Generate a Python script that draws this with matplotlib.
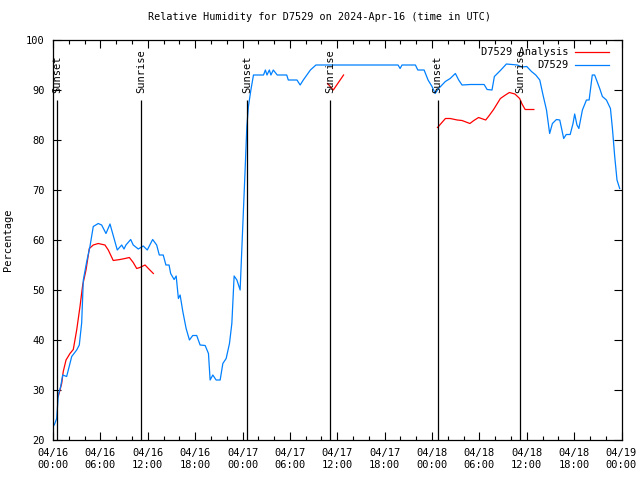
import numpy as np
import matplotlib
matplotlib.use('Agg')
import matplotlib.pyplot as plt

# hours since 04/16 00:00 UTC, relative humidity (%)
obs_hours = [0.16, 0.47, 0.67, 0.97, 1.23, 1.73, 2.37, 3.0, 3.33, 3.63, 3.84, 4.27, 4.68,
             5.1, 5.73, 6.16, 6.71, 7.22, 7.56, 8.14, 8.7, 8.99, 9.24, 9.84, 10.16, 10.8,
             11.43, 11.94, 12.62, 13.13, 13.46, 13.96, 14.3, 14.7, 14.9, 15.34, 15.6, 15.88,
             16.1, 16.44, 16.86, 17.28, 17.7, 18.2, 18.63, 19.27, 19.69, 19.9, 20.24, 20.66,
             21.17, 21.51, 21.93, 22.35, 22.65, 22.94, 23.29, 23.7, 23.92, 24.12, 24.33,
             24.55, 24.75, 25.06, 25.39, 26.66, 26.9, 27.1, 27.4, 27.6, 27.9, 28.4, 29.6,
             29.8, 30.9, 31.3, 31.7, 32.6, 33.3, 43.7, 43.96, 44.2, 45.9, 46.2, 47.0, 47.5,
             48.0, 48.4, 48.84, 49.27, 49.69, 50.3, 50.96, 51.38, 51.8, 52.86, 54.6, 54.98,
             55.6, 55.9, 56.66, 57.42, 58.8, 59.4, 60.0, 60.6, 61.14, 61.65, 62.06, 62.5,
             62.9, 63.25, 63.76, 64.18, 64.68, 65.0, 65.5, 65.86, 66.07, 66.36, 66.6, 67.05,
             67.56, 67.9, 68.3, 68.6, 69.24, 69.58, 70.09, 70.6, 70.85, 71.14, 71.43, 71.77]
obs_rh = [23, 24.3, 29, 30.7, 33, 32.7, 36.7, 38, 39, 43.4, 52, 55.7, 58.7,
          62.7, 63.3, 63, 61.3, 63.2, 61.3, 58, 59, 58.2, 59, 60.1, 59, 58.2,
          58.8, 58, 60.1, 59, 57, 57, 55, 55, 53.3, 52.1, 52.8, 48.3,
          49, 45.7, 42.3, 40, 40.9, 40.9, 39, 38.9, 37.3, 32, 33, 32,
          32, 35.3, 36.3, 39.3, 43.3, 52.8, 52, 50, 58.3, 66, 74,
          82.7, 86.7, 90, 93, 93, 94, 93, 94, 93, 94, 93, 93,
          92, 92, 91, 92, 94, 95, 95, 94.3, 95, 95, 94, 94, 92,
          90.7, 89.3, 90.3, 91, 91.7, 92.3, 93.3, 92, 91, 91.1, 91.1, 90.1,
          90, 92.7, 93.9, 95.2, 95, 94.6, 94.7, 93.7, 93, 92, 89, 86,
          81.3, 83.3, 84.1, 84, 80.3, 81.1, 81.1, 83.3, 85.2, 83, 82.3, 86,
          88, 88, 93, 93, 90.3, 88.7, 88, 86.3, 82.3, 76.7, 72, 70.3]

# analysis series, three separate runs (NaN = gap)
ana_hours = [0.67, 1.1, 1.3, 1.65, 2.15, 2.57, 3.0, 3.42, 3.76, 4.18, 4.6, 5.1, 5.73,
             6.58, 7.0, 7.63, 8.49, 9.12, 9.67, 10.16, 10.6, 11.0, 11.66, 12.08, 12.71,
             np.nan, 34.77, 35.5, 36.8,
             np.nan, 48.7, 49.7, 50.3, 51.2, 51.8, 52.8, 53.3, 53.9, 54.8, 55.2, 55.8,
             56.66, 57.3, 57.8, 58.5, 59.1, 59.4, 59.8, 60.9]
ana_rh = [28.7, 31.3, 33.7, 36, 37.3, 38.1, 42, 46.7, 51, 54, 58.3, 59, 59.3,
          59, 58, 55.9, 56.1, 56.3, 56.5, 55.5, 54.3, 54.5, 55, 54.3, 53.3,
          np.nan, 91.3, 90, 93,
          np.nan, 82.5, 84.3, 84.3, 84, 83.9, 83.3, 83.9, 84.5, 84, 84.8, 86.1,
          88.3, 89, 89.5, 89.2, 88.3, 87.2, 86.1, 86.1]

sun_hours = [0.5, 11.15, 24.6, 35.1, 48.7, 59.2]
sun_labels = ['Sunset', 'Sunrise', 'Sunset', 'Sunrise', 'Sunset', 'Sunrise']

tick_labels = ['04/16\n00:00', '04/16\n06:00', '04/16\n12:00', '04/16\n18:00',
               '04/17\n00:00', '04/17\n06:00', '04/17\n12:00', '04/17\n18:00',
               '04/18\n00:00', '04/18\n06:00', '04/18\n12:00', '04/18\n18:00',
               '04/19\n00:00']

plt.rcParams['font.family'] = 'DejaVu Sans Mono'
plt.rcParams['font.size'] = 7.5

fig = plt.figure(figsize=(6.4, 4.8), dpi=100)
ax = fig.add_axes([53 / 640, 40 / 480, 568.5 / 640, 400 / 480])

ax.plot(ana_hours, ana_rh, color='#ff0000', lw=0.9, label='D7529 Analysis')
ax.plot(obs_hours, obs_rh, color='#0080ff', lw=0.9, label='D7529')

ax.vlines(sun_hours, 20, 88, color='black', lw=0.9)
for h, lab in zip(sun_hours, sun_labels):
    ax.text(h, 89.4, lab, rotation=90, ha='center', va='bottom')

ax.set_xlim(0, 72)
ax.set_ylim(20, 100)
ax.set_xticks(np.arange(0, 73, 6))
ax.set_xticklabels(tick_labels)
ax.set_xticks(np.arange(0, 73, 2), minor=True)
ax.set_yticks(np.arange(20, 101, 10))
ax.tick_params(which='both', direction='in', top=True, right=True, width=0.8)
ax.tick_params(which='major', length=6, pad=6)
ax.tick_params(which='minor', length=3)
for s in ax.spines.values():
    s.set_linewidth(0.9)

ax.set_ylabel('Percentage', labelpad=9)
fig.suptitle('Relative Humidity for D7529 on 2024-Apr-16 (time in UTC)', y=0.975,
             fontsize=7.3)

ax.legend(loc='upper right', bbox_to_anchor=(0.99, 1.0), frameon=False,
          markerfirst=False, alignment='right', handlelength=3.2,
          handletextpad=0.6, labelspacing=0.3, borderaxespad=0.3)

fig.savefig('out.png', dpi=100)
